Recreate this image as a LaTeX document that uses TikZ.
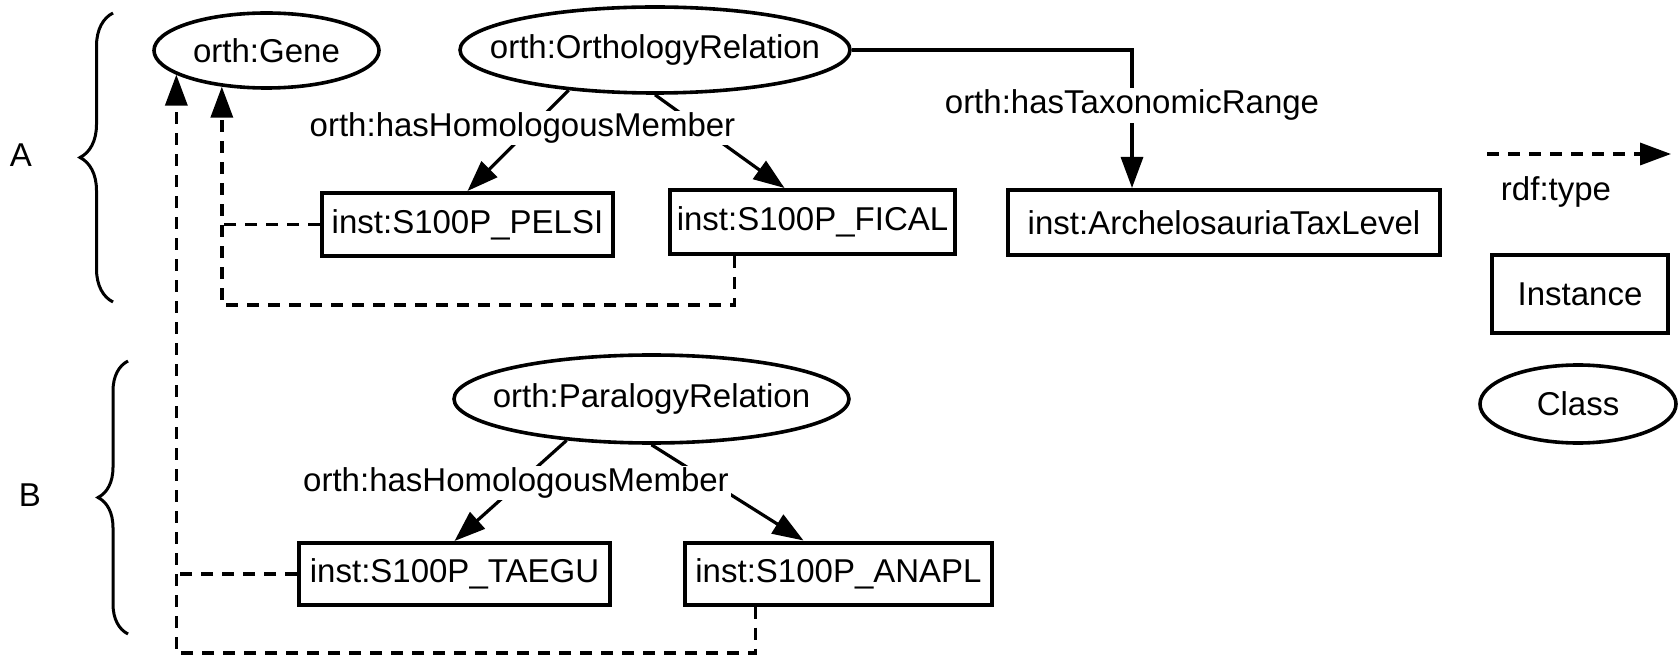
\documentclass[tikz,border=0pt]{standalone}
\usepackage{fontspec}
\setmainfont{Liberation Sans}
\usetikzlibrary{arrows.meta,positioning,calc,decorations.pathreplacing,shapes.geometric}

\begin{document}
\begin{tikzpicture}[x=1pt, y=1pt,
    every node/.style={font=\fontsize{33}{40}\selectfont},
    inst/.style={draw, rectangle, line width=4pt, inner sep=0pt, minimum height=63pt},
    cls/.style={draw, ellipse, line width=3.6pt, inner sep=0pt,
      execute at begin node={\hbox to 0pt\bgroup\hss}, execute at end node={\hss\egroup}},
    rel/.style={line width=3.2pt, -{Triangle[length=31pt,width=22pt]}},
    typeof/.style={line width=3.5pt, dash pattern=on 12pt off 9pt, -{Triangle[length=31pt,width=22pt]}},
    typeline/.style={line width=3.5pt, dash pattern=on 12pt off 9pt},
    lbl/.style={fill=white, inner sep=2pt},
    grp/.style={decorate, decoration={brace, amplitude=#1}, line width=3pt}
  ]
  \useasboundingbox (0,0) rectangle (1678,662);

  % Klassen
  \node[cls, minimum width=225pt, minimum height=75pt] (gene) at (266.5,611.5) {orth:Gene};
  \node[cls, minimum width=390pt, minimum height=86pt] (ortho) at (655,612) {orth:OrthologyRelation};
  \node[cls, minimum width=395pt, minimum height=88pt] (para) at (651.5,263) {orth:ParalogyRelation};

  % Instanzen
  \node[inst, minimum width=291pt] (pelsi) at (467.5,437.5) {inst:S100P\_PELSI};
  \node[inst, minimum width=285pt, minimum height=64pt] (fical) at (812.5,440) {inst:S100P\_FICAL};
  \node[inst, minimum width=432pt, minimum height=65pt] (archelo) at (1224,439.5) {inst:ArchelosauriaTaxLevel};
  \node[inst, minimum width=311pt, minimum height=62pt] (taegu) at (454.5,88) {inst:S100P\_TAEGU};
  \node[inst, minimum width=307pt, minimum height=62pt] (anapl) at (838.5,88.5) {inst:S100P\_ANAPL};

  % Beziehungen (A)
  \draw[rel] (ortho.205) -- (pelsi.north);
  \draw[rel] (ortho.south) -- ([xshift=-28pt]fical.north);
  \draw[rel] (ortho.east) -| ([xshift=-92pt]archelo.north) node[lbl, pos=0.7] (taxlbl) {orth:hasTaxonomicRange};
  \node[lbl] (homA) at (522.5,534) {orth:hasHomologousMember};

  % Beziehungen (B)
  \draw[rel] (para.206) -- (taegu.north);
  \draw[rel] (para.south) -- ([xshift=-35pt]anapl.north);
  \node[lbl] (homB) at (516,179) {orth:hasHomologousMember};

  % rdf:type
  \draw[typeof] ([xshift=-78pt]fical.south) |- (gene.219 |- 0,357) -- (gene.219);
  \draw[typeline] (pelsi.west) -- (pelsi.west -| gene.219);
  \draw[typeof] ([xshift=-83pt]anapl.south) |- (gene.195 |- 0,9) -- (gene.195);
  \draw[typeline] (taegu.west) -- (taegu.west -| gene.195);

  % Klammern
  \draw[grp=33pt] (113,360) -- (113,649);
  \node (labA) at (21,507) {A};
  \draw[grp=30pt] (128,28) -- (128,301);
  \node (labB) at (30,167) {B};

  % Legende
  \coordinate (lgstart) at (1487,508);
  \coordinate (lgend) at (1671,508);
  \draw[typeof] (lgstart) -- (lgend);
  \node (rdftype) at (1556,470) {rdf:type};
  \node[inst, minimum width=176pt, minimum height=78pt] (instlg) at (1580,368) {Instance};
  \node[cls, minimum width=196pt, minimum height=78pt] (clslg) at (1578,258) {Class};
\end{tikzpicture}
\end{document}
